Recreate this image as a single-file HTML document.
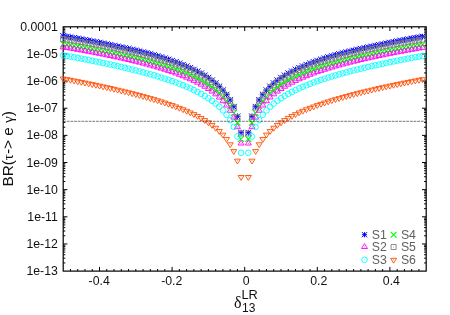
<!DOCTYPE html>
<html><head><meta charset="utf-8"><title>BR(tau-&gt;e gamma)</title>
<style>
html,body{margin:0;padding:0;background:#fff;}
body{width:450px;height:315px;overflow:hidden;font-family:"Liberation Sans",sans-serif;}
svg text{font-family:"Liberation Sans",sans-serif;}
.t{font-size:12.3px;fill:#111;}
.a{font-size:15px;fill:#111;}
</style></head><body>
<svg width="450" height="315" viewBox="0 0 450 315" style="display:block;will-change:transform">
<rect width="450" height="315" fill="#fff"/>
<path d="M63.2 45.77h2.1M426.2 45.77h-2.1M63.2 40.99h2.1M426.2 40.99h-2.1M63.2 37.6h2.1M426.2 37.6h-2.1M63.2 34.97h2.1M426.2 34.97h-2.1M63.2 32.82h2.1M426.2 32.82h-2.1M63.2 31h2.1M426.2 31h-2.1M63.2 29.43h2.1M426.2 29.43h-2.1M63.2 28.04h2.1M426.2 28.04h-2.1M63.2 53.94h4.2M426.2 53.94h-4.2M63.2 72.92h2.1M426.2 72.92h-2.1M63.2 68.14h2.1M426.2 68.14h-2.1M63.2 64.75h2.1M426.2 64.75h-2.1M63.2 62.12h2.1M426.2 62.12h-2.1M63.2 59.97h2.1M426.2 59.97h-2.1M63.2 58.15h2.1M426.2 58.15h-2.1M63.2 56.58h2.1M426.2 56.58h-2.1M63.2 55.19h2.1M426.2 55.19h-2.1M63.2 81.09h4.2M426.2 81.09h-4.2M63.2 100.06h2.1M426.2 100.06h-2.1M63.2 95.28h2.1M426.2 95.28h-2.1M63.2 91.89h2.1M426.2 91.89h-2.1M63.2 89.26h2.1M426.2 89.26h-2.1M63.2 87.11h2.1M426.2 87.11h-2.1M63.2 85.29h2.1M426.2 85.29h-2.1M63.2 83.72h2.1M426.2 83.72h-2.1M63.2 82.33h2.1M426.2 82.33h-2.1M63.2 108.23h4.2M426.2 108.23h-4.2M63.2 127.21h2.1M426.2 127.21h-2.1M63.2 122.43h2.1M426.2 122.43h-2.1M63.2 119.04h2.1M426.2 119.04h-2.1M63.2 116.4h2.1M426.2 116.4h-2.1M63.2 114.26h2.1M426.2 114.26h-2.1M63.2 112.44h2.1M426.2 112.44h-2.1M63.2 110.86h2.1M426.2 110.86h-2.1M63.2 109.48h2.1M426.2 109.48h-2.1M63.2 135.38h4.2M426.2 135.38h-4.2M63.2 154.35h2.1M426.2 154.35h-2.1M63.2 149.57h2.1M426.2 149.57h-2.1M63.2 146.18h2.1M426.2 146.18h-2.1M63.2 143.55h2.1M426.2 143.55h-2.1M63.2 141.4h2.1M426.2 141.4h-2.1M63.2 139.58h2.1M426.2 139.58h-2.1M63.2 138.01h2.1M426.2 138.01h-2.1M63.2 136.62h2.1M426.2 136.62h-2.1M63.2 162.52h4.2M426.2 162.52h-4.2M63.2 181.5h2.1M426.2 181.5h-2.1M63.2 176.72h2.1M426.2 176.72h-2.1M63.2 173.32h2.1M426.2 173.32h-2.1M63.2 170.69h2.1M426.2 170.69h-2.1M63.2 168.54h2.1M426.2 168.54h-2.1M63.2 166.73h2.1M426.2 166.73h-2.1M63.2 165.15h2.1M426.2 165.15h-2.1M63.2 163.76h2.1M426.2 163.76h-2.1M63.2 189.67h4.2M426.2 189.67h-4.2M63.2 208.64h2.1M426.2 208.64h-2.1M63.2 203.86h2.1M426.2 203.86h-2.1M63.2 200.47h2.1M426.2 200.47h-2.1M63.2 197.84h2.1M426.2 197.84h-2.1M63.2 195.69h2.1M426.2 195.69h-2.1M63.2 193.87h2.1M426.2 193.87h-2.1M63.2 192.3h2.1M426.2 192.3h-2.1M63.2 190.91h2.1M426.2 190.91h-2.1M63.2 216.81h4.2M426.2 216.81h-4.2M63.2 235.78h2.1M426.2 235.78h-2.1M63.2 231h2.1M426.2 231h-2.1M63.2 227.61h2.1M426.2 227.61h-2.1M63.2 224.98h2.1M426.2 224.98h-2.1M63.2 222.83h2.1M426.2 222.83h-2.1M63.2 221.02h2.1M426.2 221.02h-2.1M63.2 219.44h2.1M426.2 219.44h-2.1M63.2 218.05h2.1M426.2 218.05h-2.1M63.2 243.96h4.2M426.2 243.96h-4.2M63.2 262.93h2.1M426.2 262.93h-2.1M63.2 258.15h2.1M426.2 258.15h-2.1M63.2 254.76h2.1M426.2 254.76h-2.1M63.2 252.13h2.1M426.2 252.13h-2.1M63.2 249.98h2.1M426.2 249.98h-2.1M63.2 248.16h2.1M426.2 248.16h-2.1M63.2 246.59h2.1M426.2 246.59h-2.1M63.2 245.2h2.1M426.2 245.2h-2.1M70.46 271.1v-2.1M70.46 26.8v2.1M77.72 271.1v-2.1M77.72 26.8v2.1M84.98 271.1v-2.1M84.98 26.8v2.1M92.24 271.1v-2.1M92.24 26.8v2.1M99.5 271.1v-4.2M99.5 26.8v4.2M106.76 271.1v-2.1M106.76 26.8v2.1M114.02 271.1v-2.1M114.02 26.8v2.1M121.28 271.1v-2.1M121.28 26.8v2.1M128.54 271.1v-2.1M128.54 26.8v2.1M135.8 271.1v-2.1M135.8 26.8v2.1M143.06 271.1v-2.1M143.06 26.8v2.1M150.32 271.1v-2.1M150.32 26.8v2.1M157.58 271.1v-2.1M157.58 26.8v2.1M164.84 271.1v-2.1M164.84 26.8v2.1M172.1 271.1v-4.2M172.1 26.8v4.2M179.36 271.1v-2.1M179.36 26.8v2.1M186.62 271.1v-2.1M186.62 26.8v2.1M193.88 271.1v-2.1M193.88 26.8v2.1M201.14 271.1v-2.1M201.14 26.8v2.1M208.4 271.1v-2.1M208.4 26.8v2.1M215.66 271.1v-2.1M215.66 26.8v2.1M222.92 271.1v-2.1M222.92 26.8v2.1M230.18 271.1v-2.1M230.18 26.8v2.1M237.44 271.1v-2.1M237.44 26.8v2.1M244.7 271.1v-4.2M244.7 26.8v4.2M251.96 271.1v-2.1M251.96 26.8v2.1M259.22 271.1v-2.1M259.22 26.8v2.1M266.48 271.1v-2.1M266.48 26.8v2.1M273.74 271.1v-2.1M273.74 26.8v2.1M281 271.1v-2.1M281 26.8v2.1M288.26 271.1v-2.1M288.26 26.8v2.1M295.52 271.1v-2.1M295.52 26.8v2.1M302.78 271.1v-2.1M302.78 26.8v2.1M310.04 271.1v-2.1M310.04 26.8v2.1M317.3 271.1v-4.2M317.3 26.8v4.2M324.56 271.1v-2.1M324.56 26.8v2.1M331.82 271.1v-2.1M331.82 26.8v2.1M339.08 271.1v-2.1M339.08 26.8v2.1M346.34 271.1v-2.1M346.34 26.8v2.1M353.6 271.1v-2.1M353.6 26.8v2.1M360.86 271.1v-2.1M360.86 26.8v2.1M368.12 271.1v-2.1M368.12 26.8v2.1M375.38 271.1v-2.1M375.38 26.8v2.1M382.64 271.1v-2.1M382.64 26.8v2.1M389.9 271.1v-4.2M389.9 26.8v4.2M397.16 271.1v-2.1M397.16 26.8v2.1M404.42 271.1v-2.1M404.42 26.8v2.1M411.68 271.1v-2.1M411.68 26.8v2.1M418.94 271.1v-2.1M418.94 26.8v2.1" stroke="#000" stroke-width="1" fill="none"/>
<rect x="63.2" y="26.8" width="363" height="244.3" fill="none" stroke="#000" stroke-width="1.2"/>
<path d="M60.3 36H66.1M63.2 33.1V38.9M60.3 33.1L66.1 38.9M60.3 38.9L66.1 33.1M63.93 36.63H69.73M66.83 33.73V39.53M63.93 33.73L69.73 39.53M63.93 39.53L69.73 33.73M67.56 37.26H73.36M70.46 34.36V40.16M67.56 34.36L73.36 40.16M67.56 40.16L73.36 34.36M71.19 37.9H76.99M74.09 35V40.8M71.19 35L76.99 40.8M71.19 40.8L76.99 35M74.82 38.55H80.62M77.72 35.65V41.45M74.82 35.65L80.62 41.45M74.82 41.45L80.62 35.65M78.45 39.21H84.25M81.35 36.31V42.11M78.45 36.31L84.25 42.11M78.45 42.11L84.25 36.31M82.08 39.89H87.88M84.98 36.99V42.79M82.08 36.99L87.88 42.79M82.08 42.79L87.88 36.99M85.71 40.57H91.51M88.61 37.67V43.47M85.71 37.67L91.51 43.47M85.71 43.47L91.51 37.67M89.34 41.26H95.14M92.24 38.36V44.16M89.34 38.36L95.14 44.16M89.34 44.16L95.14 38.36M92.97 41.97H98.77M95.87 39.07V44.87M92.97 39.07L98.77 44.87M92.97 44.87L98.77 39.07M96.6 42.68H102.4M99.5 39.78V45.58M96.6 39.78L102.4 45.58M96.6 45.58L102.4 39.78M100.23 43.41H106.03M103.13 40.51V46.31M100.23 40.51L106.03 46.31M100.23 46.31L106.03 40.51M103.86 44.16H109.66M106.76 41.26V47.06M103.86 41.26L109.66 47.06M103.86 47.06L109.66 41.26M107.49 44.92H113.29M110.39 42.02V47.82M107.49 42.02L113.29 47.82M107.49 47.82L113.29 42.02M111.12 45.69H116.92M114.02 42.79V48.59M111.12 42.79L116.92 48.59M111.12 48.59L116.92 42.79M114.75 46.48H120.55M117.65 43.58V49.38M114.75 43.58L120.55 49.38M114.75 49.38L120.55 43.58M118.38 47.23H124.18M121.28 44.33V50.13M118.38 44.33L124.18 50.13M118.38 50.13L124.18 44.33M122.01 48.01H127.81M124.91 45.11V50.91M122.01 45.11L127.81 50.91M122.01 50.91L127.81 45.11M125.64 48.8H131.44M128.54 45.9V51.7M125.64 45.9L131.44 51.7M125.64 51.7L131.44 45.9M129.27 49.62H135.07M132.17 46.72V52.52M129.27 46.72L135.07 52.52M129.27 52.52L135.07 46.72M132.9 50.45H138.7M135.8 47.55V53.35M132.9 47.55L138.7 53.35M132.9 53.35L138.7 47.55M136.53 51.31H142.33M139.43 48.41V54.21M136.53 48.41L142.33 54.21M136.53 54.21L142.33 48.41M140.16 52.2H145.96M143.06 49.3V55.1M140.16 49.3L145.96 55.1M140.16 55.1L145.96 49.3M143.79 53.11H149.59M146.69 50.21V56.01M143.79 50.21L149.59 56.01M143.79 56.01L149.59 50.21M147.42 54.05H153.22M150.32 51.15V56.95M147.42 51.15L153.22 56.95M147.42 56.95L153.22 51.15M151.05 55.03H156.85M153.95 52.13V57.93M151.05 52.13L156.85 57.93M151.05 57.93L156.85 52.13M154.68 56.08H160.48M157.58 53.18V58.98M154.68 53.18L160.48 58.98M154.68 58.98L160.48 53.18M158.31 57.18H164.11M161.21 54.28V60.08M158.31 54.28L164.11 60.08M158.31 60.08L164.11 54.28M161.94 58.32H167.74M164.84 55.42V61.22M161.94 55.42L167.74 61.22M161.94 61.22L167.74 55.42M165.57 59.5H171.37M168.47 56.6V62.4M165.57 56.6L171.37 62.4M165.57 62.4L171.37 56.6M169.2 60.73H175M172.1 57.83V63.63M169.2 57.83L175 63.63M169.2 63.63L175 57.83M172.83 62.02H178.63M175.73 59.12V64.92M172.83 59.12L178.63 64.92M172.83 64.92L178.63 59.12M176.46 63.37H182.26M179.36 60.47V66.27M176.46 60.47L182.26 66.27M176.46 66.27L182.26 60.47M180.09 64.79H185.89M182.99 61.89V67.69M180.09 61.89L185.89 67.69M180.09 67.69L185.89 61.89M183.72 66.29H189.52M186.62 63.39V69.19M183.72 63.39L189.52 69.19M183.72 69.19L189.52 63.39M187.35 67.87H193.15M190.25 64.97V70.77M187.35 64.97L193.15 70.77M187.35 70.77L193.15 64.97M190.98 69.56H196.78M193.88 66.66V72.46M190.98 66.66L196.78 72.46M190.98 72.46L196.78 66.66M194.61 71.37H200.41M197.51 68.47V74.27M194.61 68.47L200.41 74.27M194.61 74.27L200.41 68.47M198.24 73.31H204.04M201.14 70.41V76.21M198.24 70.41L204.04 76.21M198.24 76.21L204.04 70.41M201.87 75.41H207.67M204.77 72.51V78.31M201.87 72.51L207.67 78.31M201.87 78.31L207.67 72.51M205.5 77.7H211.3M208.4 74.8V80.6M205.5 74.8L211.3 80.6M205.5 80.6L211.3 74.8M209.13 80.31H214.93M212.03 77.41V83.21M209.13 77.41L214.93 83.21M209.13 83.21L214.93 77.41M212.76 83.2H218.56M215.66 80.3V86.1M212.76 80.3L218.56 86.1M212.76 86.1L218.56 80.3M216.39 86.47H222.19M219.29 83.57V89.37M216.39 83.57L222.19 89.37M216.39 89.37L222.19 83.57M220.02 90.21H225.82M222.92 87.31V93.11M220.02 87.31L225.82 93.11M220.02 93.11L225.82 87.31M223.65 94.62H229.45M226.55 91.72V97.52M223.65 91.72L229.45 97.52M223.65 97.52L229.45 91.72M227.28 99.98H233.08M230.18 97.08V102.88M227.28 97.08L233.08 102.88M227.28 102.88L233.08 97.08M230.91 106.78H236.71M233.81 103.88V109.68M230.91 103.88L236.71 109.68M230.91 109.68L236.71 103.88M234.54 116.35H240.34M237.44 113.45V119.25M234.54 113.45L240.34 119.25M234.54 119.25L240.34 113.45M238.17 132.7H243.97M241.07 129.8V135.6M238.17 129.8L243.97 135.6M238.17 135.6L243.97 129.8M245.43 132.7H251.23M248.33 129.8V135.6M245.43 129.8L251.23 135.6M245.43 135.6L251.23 129.8M249.06 116.35H254.86M251.96 113.45V119.25M249.06 113.45L254.86 119.25M249.06 119.25L254.86 113.45M252.69 106.78H258.49M255.59 103.88V109.68M252.69 103.88L258.49 109.68M252.69 109.68L258.49 103.88M256.32 99.98H262.12M259.22 97.08V102.88M256.32 97.08L262.12 102.88M256.32 102.88L262.12 97.08M259.95 94.62H265.75M262.85 91.72V97.52M259.95 91.72L265.75 97.52M259.95 97.52L265.75 91.72M263.58 90.21H269.38M266.48 87.31V93.11M263.58 87.31L269.38 93.11M263.58 93.11L269.38 87.31M267.21 86.47H273.01M270.11 83.57V89.37M267.21 83.57L273.01 89.37M267.21 89.37L273.01 83.57M270.84 83.2H276.64M273.74 80.3V86.1M270.84 80.3L276.64 86.1M270.84 86.1L276.64 80.3M274.47 80.31H280.27M277.37 77.41V83.21M274.47 77.41L280.27 83.21M274.47 83.21L280.27 77.41M278.1 77.7H283.9M281 74.8V80.6M278.1 74.8L283.9 80.6M278.1 80.6L283.9 74.8M281.73 75.41H287.53M284.63 72.51V78.31M281.73 72.51L287.53 78.31M281.73 78.31L287.53 72.51M285.36 73.31H291.16M288.26 70.41V76.21M285.36 70.41L291.16 76.21M285.36 76.21L291.16 70.41M288.99 71.37H294.79M291.89 68.47V74.27M288.99 68.47L294.79 74.27M288.99 74.27L294.79 68.47M292.62 69.56H298.42M295.52 66.66V72.46M292.62 66.66L298.42 72.46M292.62 72.46L298.42 66.66M296.25 67.87H302.05M299.15 64.97V70.77M296.25 64.97L302.05 70.77M296.25 70.77L302.05 64.97M299.88 66.29H305.68M302.78 63.39V69.19M299.88 63.39L305.68 69.19M299.88 69.19L305.68 63.39M303.51 64.79H309.31M306.41 61.89V67.69M303.51 61.89L309.31 67.69M303.51 67.69L309.31 61.89M307.14 63.37H312.94M310.04 60.47V66.27M307.14 60.47L312.94 66.27M307.14 66.27L312.94 60.47M310.77 62.02H316.57M313.67 59.12V64.92M310.77 59.12L316.57 64.92M310.77 64.92L316.57 59.12M314.4 60.73H320.2M317.3 57.83V63.63M314.4 57.83L320.2 63.63M314.4 63.63L320.2 57.83M318.03 59.5H323.83M320.93 56.6V62.4M318.03 56.6L323.83 62.4M318.03 62.4L323.83 56.6M321.66 58.32H327.46M324.56 55.42V61.22M321.66 55.42L327.46 61.22M321.66 61.22L327.46 55.42M325.29 57.18H331.09M328.19 54.28V60.08M325.29 54.28L331.09 60.08M325.29 60.08L331.09 54.28M328.92 56.08H334.72M331.82 53.18V58.98M328.92 53.18L334.72 58.98M328.92 58.98L334.72 53.18M332.55 55.03H338.35M335.45 52.13V57.93M332.55 52.13L338.35 57.93M332.55 57.93L338.35 52.13M336.18 54.05H341.98M339.08 51.15V56.95M336.18 51.15L341.98 56.95M336.18 56.95L341.98 51.15M339.81 53.11H345.61M342.71 50.21V56.01M339.81 50.21L345.61 56.01M339.81 56.01L345.61 50.21M343.44 52.2H349.24M346.34 49.3V55.1M343.44 49.3L349.24 55.1M343.44 55.1L349.24 49.3M347.07 51.31H352.87M349.97 48.41V54.21M347.07 48.41L352.87 54.21M347.07 54.21L352.87 48.41M350.7 50.45H356.5M353.6 47.55V53.35M350.7 47.55L356.5 53.35M350.7 53.35L356.5 47.55M354.33 49.62H360.13M357.23 46.72V52.52M354.33 46.72L360.13 52.52M354.33 52.52L360.13 46.72M357.96 48.8H363.76M360.86 45.9V51.7M357.96 45.9L363.76 51.7M357.96 51.7L363.76 45.9M361.59 48.01H367.39M364.49 45.11V50.91M361.59 45.11L367.39 50.91M361.59 50.91L367.39 45.11M365.22 47.23H371.02M368.12 44.33V50.13M365.22 44.33L371.02 50.13M365.22 50.13L371.02 44.33M368.85 46.48H374.65M371.75 43.58V49.38M368.85 43.58L374.65 49.38M368.85 49.38L374.65 43.58M372.48 45.69H378.28M375.38 42.79V48.59M372.48 42.79L378.28 48.59M372.48 48.59L378.28 42.79M376.11 44.92H381.91M379.01 42.02V47.82M376.11 42.02L381.91 47.82M376.11 47.82L381.91 42.02M379.74 44.16H385.54M382.64 41.26V47.06M379.74 41.26L385.54 47.06M379.74 47.06L385.54 41.26M383.37 43.41H389.17M386.27 40.51V46.31M383.37 40.51L389.17 46.31M383.37 46.31L389.17 40.51M387 42.68H392.8M389.9 39.78V45.58M387 39.78L392.8 45.58M387 45.58L392.8 39.78M390.63 41.97H396.43M393.53 39.07V44.87M390.63 39.07L396.43 44.87M390.63 44.87L396.43 39.07M394.26 41.26H400.06M397.16 38.36V44.16M394.26 38.36L400.06 44.16M394.26 44.16L400.06 38.36M397.89 40.57H403.69M400.79 37.67V43.47M397.89 37.67L403.69 43.47M397.89 43.47L403.69 37.67M401.52 39.89H407.32M404.42 36.99V42.79M401.52 36.99L407.32 42.79M401.52 42.79L407.32 36.99M405.15 39.21H410.95M408.05 36.31V42.11M405.15 36.31L410.95 42.11M405.15 42.11L410.95 36.31M408.78 38.55H414.58M411.68 35.65V41.45M408.78 35.65L414.58 41.45M408.78 41.45L414.58 35.65M412.41 37.9H418.21M415.31 35V40.8M412.41 35L418.21 40.8M412.41 40.8L418.21 35M416.04 37.26H421.84M418.94 34.36V40.16M416.04 34.36L421.84 40.16M416.04 40.16L421.84 34.36M419.67 36.63H425.47M422.57 33.73V39.53M419.67 33.73L425.47 39.53M419.67 39.53L425.47 33.73" stroke="#0000ff" stroke-width="1.0" fill="none" stroke-linejoin="miter"/>
<path d="M60.3 41.1L66.1 46.9M60.3 46.9L66.1 41.1M63.93 41.68L69.73 47.48M63.93 47.48L69.73 41.68M67.56 42.26L73.36 48.06M67.56 48.06L73.36 42.26M71.19 42.85L76.99 48.65M71.19 48.65L76.99 42.85M74.82 43.45L80.62 49.25M74.82 49.25L80.62 43.45M78.45 44.06L84.25 49.86M78.45 49.86L84.25 44.06M82.08 44.68L87.88 50.48M82.08 50.48L87.88 44.68M85.71 45.32L91.51 51.12M85.71 51.12L91.51 45.32M89.34 45.96L95.14 51.76M89.34 51.76L95.14 45.96M92.97 46.62L98.77 52.42M92.97 52.42L98.77 46.62M96.6 47.28L102.4 53.08M96.6 53.08L102.4 47.28M100.23 47.97L106.03 53.77M100.23 53.77L106.03 47.97M103.86 48.66L109.66 54.46M103.86 54.46L109.66 48.66M107.49 49.37L113.29 55.17M107.49 55.17L113.29 49.37M111.12 50.1L116.92 55.9M111.12 55.9L116.92 50.1M114.75 50.84L120.55 56.64M114.75 56.64L120.55 50.84M118.38 51.6L124.18 57.4M118.38 57.4L124.18 51.6M122.01 52.38L127.81 58.18M122.01 58.18L127.81 52.38M125.64 53.18L131.44 58.98M125.64 58.98L131.44 53.18M129.27 54L135.07 59.8M129.27 59.8L135.07 54M132.9 54.84L138.7 60.64M132.9 60.64L138.7 54.84M136.53 55.71L142.33 61.51M136.53 61.51L142.33 55.71M140.16 56.6L145.96 62.4M140.16 62.4L145.96 56.6M143.79 57.52L149.59 63.32M143.79 63.32L149.59 57.52M147.42 58.47L153.22 64.27M147.42 64.27L153.22 58.47M151.05 59.45L156.85 65.25M151.05 65.25L156.85 59.45M154.68 60.47L160.48 66.27M154.68 66.27L160.48 60.47M158.31 61.53L164.11 67.33M158.31 67.33L164.11 61.53M161.94 62.63L167.74 68.43M161.94 68.43L167.74 62.63M165.57 63.78L171.37 69.58M165.57 69.58L171.37 63.78M169.2 64.98L175 70.78M169.2 70.78L175 64.98M172.83 66.24L178.63 72.04M172.83 72.04L178.63 66.24M176.46 67.56L182.26 73.36M176.46 73.36L182.26 67.56M180.09 68.95L185.89 74.75M180.09 74.75L185.89 68.95M183.72 70.42L189.52 76.22M183.72 76.22L189.52 70.42M187.35 71.98L193.15 77.78M187.35 77.78L193.15 71.98M190.98 73.64L196.78 79.44M190.98 79.44L196.78 73.64M194.61 75.42L200.41 81.22M194.61 81.22L200.41 75.42M198.24 77.34L204.04 83.14M198.24 83.14L204.04 77.34M201.87 79.42L207.67 85.22M201.87 85.22L207.67 79.42M205.5 81.69L211.3 87.49M205.5 87.49L211.3 81.69M209.13 84.2L214.93 90M209.13 90L214.93 84.2M212.76 86.99L218.56 92.79M212.76 92.79L218.56 86.99M216.39 90.16L222.19 95.96M216.39 95.96L222.19 90.16M220.02 93.81L225.82 99.61M220.02 99.61L225.82 93.81M223.65 98.12L229.45 103.92M223.65 103.92L229.45 98.12M227.28 103.4L233.08 109.2M227.28 109.2L233.08 103.4M230.91 110.19L236.71 115.99M230.91 115.99L236.71 110.19M234.54 119.75L240.34 125.55M234.54 125.55L240.34 119.75M238.17 136.1L243.97 141.9M238.17 141.9L243.97 136.1M245.43 136.1L251.23 141.9M245.43 141.9L251.23 136.1M249.06 119.75L254.86 125.55M249.06 125.55L254.86 119.75M252.69 110.19L258.49 115.99M252.69 115.99L258.49 110.19M256.32 103.4L262.12 109.2M256.32 109.2L262.12 103.4M259.95 98.12L265.75 103.92M259.95 103.92L265.75 98.12M263.58 93.81L269.38 99.61M263.58 99.61L269.38 93.81M267.21 90.16L273.01 95.96M267.21 95.96L273.01 90.16M270.84 86.99L276.64 92.79M270.84 92.79L276.64 86.99M274.47 84.2L280.27 90M274.47 90L280.27 84.2M278.1 81.69L283.9 87.49M278.1 87.49L283.9 81.69M281.73 79.42L287.53 85.22M281.73 85.22L287.53 79.42M285.36 77.34L291.16 83.14M285.36 83.14L291.16 77.34M288.99 75.42L294.79 81.22M288.99 81.22L294.79 75.42M292.62 73.64L298.42 79.44M292.62 79.44L298.42 73.64M296.25 71.98L302.05 77.78M296.25 77.78L302.05 71.98M299.88 70.42L305.68 76.22M299.88 76.22L305.68 70.42M303.51 68.95L309.31 74.75M303.51 74.75L309.31 68.95M307.14 67.56L312.94 73.36M307.14 73.36L312.94 67.56M310.77 66.24L316.57 72.04M310.77 72.04L316.57 66.24M314.4 64.98L320.2 70.78M314.4 70.78L320.2 64.98M318.03 63.78L323.83 69.58M318.03 69.58L323.83 63.78M321.66 62.63L327.46 68.43M321.66 68.43L327.46 62.63M325.29 61.53L331.09 67.33M325.29 67.33L331.09 61.53M328.92 60.47L334.72 66.27M328.92 66.27L334.72 60.47M332.55 59.45L338.35 65.25M332.55 65.25L338.35 59.45M336.18 58.47L341.98 64.27M336.18 64.27L341.98 58.47M339.81 57.52L345.61 63.32M339.81 63.32L345.61 57.52M343.44 56.6L349.24 62.4M343.44 62.4L349.24 56.6M347.07 55.71L352.87 61.51M347.07 61.51L352.87 55.71M350.7 54.84L356.5 60.64M350.7 60.64L356.5 54.84M354.33 54L360.13 59.8M354.33 59.8L360.13 54M357.96 53.18L363.76 58.98M357.96 58.98L363.76 53.18M361.59 52.38L367.39 58.18M361.59 58.18L367.39 52.38M365.22 51.6L371.02 57.4M365.22 57.4L371.02 51.6M368.85 50.84L374.65 56.64M368.85 56.64L374.65 50.84M372.48 50.1L378.28 55.9M372.48 55.9L378.28 50.1M376.11 49.37L381.91 55.17M376.11 55.17L381.91 49.37M379.74 48.66L385.54 54.46M379.74 54.46L385.54 48.66M383.37 47.97L389.17 53.77M383.37 53.77L389.17 47.97M387 47.28L392.8 53.08M387 53.08L392.8 47.28M390.63 46.62L396.43 52.42M390.63 52.42L396.43 46.62M394.26 45.96L400.06 51.76M394.26 51.76L400.06 45.96M397.89 45.32L403.69 51.12M397.89 51.12L403.69 45.32M401.52 44.68L407.32 50.48M401.52 50.48L407.32 44.68M405.15 44.06L410.95 49.86M405.15 49.86L410.95 44.06M408.78 43.45L414.58 49.25M408.78 49.25L414.58 43.45M412.41 42.85L418.21 48.65M412.41 48.65L418.21 42.85M416.04 42.26L421.84 48.06M416.04 48.06L421.84 42.26M419.67 41.68L425.47 47.48M419.67 47.48L425.47 41.68" stroke="#00ff00" stroke-width="1.1" fill="none" stroke-linejoin="miter"/>
<path d="M60.7 36.5H65.7V41.5H60.7ZM62.85 39h0.7M64.33 37.09H69.33V42.09H64.33ZM66.48 39.59h0.7M67.96 37.7H72.96V42.7H67.96ZM70.11 40.2h0.7M71.59 38.31H76.59V43.31H71.59ZM73.74 40.81h0.7M75.22 38.93H80.22V43.93H75.22ZM77.37 41.43h0.7M78.85 39.56H83.85V44.56H78.85ZM81 42.06h0.7M82.48 40.2H87.48V45.2H82.48ZM84.63 42.7h0.7M86.11 40.85H91.11V45.85H86.11ZM88.26 43.35h0.7M89.74 41.51H94.74V46.51H89.74ZM91.89 44.01h0.7M93.37 42.19H98.37V47.19H93.37ZM95.52 44.69h0.7M97 42.88H102V47.88H97ZM99.15 45.38h0.7M100.63 43.58H105.63V48.58H100.63ZM102.78 46.08h0.7M104.26 44.3H109.26V49.3H104.26ZM106.41 46.8h0.7M107.89 45.03H112.89V50.03H107.89ZM110.04 47.53h0.7M111.52 45.77H116.52V50.77H111.52ZM113.67 48.27h0.7M115.15 46.54H120.15V51.54H115.15ZM117.3 49.04h0.7M118.78 47.32H123.78V52.32H118.78ZM120.93 49.82h0.7M122.41 48.12H127.41V53.12H122.41ZM124.56 50.62h0.7M126.04 48.94H131.04V53.94H126.04ZM128.19 51.44h0.7M129.67 49.78H134.67V54.78H129.67ZM131.82 52.28h0.7M133.3 50.64H138.3V55.64H133.3ZM135.45 53.14h0.7M136.93 51.5H141.93V56.5H136.93ZM139.08 54h0.7M140.56 52.38H145.56V57.38H140.56ZM142.71 54.88h0.7M144.19 53.29H149.19V58.29H144.19ZM146.34 55.79h0.7M147.82 54.23H152.82V59.23H147.82ZM149.97 56.73h0.7M151.45 55.2H156.45V60.2H151.45ZM153.6 57.7h0.7M155.08 56.21H160.08V61.21H155.08ZM157.23 58.71h0.7M158.71 57.26H163.71V62.26H158.71ZM160.86 59.76h0.7M162.34 58.35H167.34V63.35H162.34ZM164.49 60.85h0.7M165.97 59.49H170.97V64.49H165.97ZM168.12 61.99h0.7M169.6 60.68H174.6V65.68H169.6ZM171.75 63.18h0.7M173.23 61.92H178.23V66.92H173.23ZM175.38 64.42h0.7M176.86 63.23H181.86V68.23H176.86ZM179.01 65.73h0.7M180.49 64.62H185.49V69.62H180.49ZM182.64 67.12h0.7M184.12 66.08H189.12V71.08H184.12ZM186.27 68.58h0.7M187.75 67.63H192.75V72.63H187.75ZM189.9 70.13h0.7M191.38 69.28H196.38V74.28H191.38ZM193.53 71.78h0.7M195.01 71.06H200.01V76.06H195.01ZM197.16 73.56h0.7M198.64 72.97H203.64V77.97H198.64ZM200.79 75.47h0.7M202.27 74.96H207.27V79.96H202.27ZM204.42 77.46h0.7M205.9 77.14H210.9V82.14H205.9ZM208.05 79.64h0.7M209.53 79.55H214.53V84.55H209.53ZM211.68 82.05h0.7M213.16 82.26H218.16V87.26H213.16ZM215.31 84.76h0.7M216.79 85.34H221.79V90.34H216.79ZM218.94 87.84h0.7M220.42 88.9H225.42V93.9H220.42ZM222.57 91.4h0.7M224.05 93.12H229.05V98.12H224.05ZM226.2 95.62h0.7M227.68 98.3H232.68V103.3H227.68ZM229.83 100.8h0.7M231.31 105.09H236.31V110.09H231.31ZM233.46 107.59h0.7M234.94 114.65H239.94V119.65H234.94ZM237.09 117.15h0.7M238.57 131H243.57V136H238.57ZM240.72 133.5h0.7M245.83 131H250.83V136H245.83ZM247.98 133.5h0.7M249.46 114.65H254.46V119.65H249.46ZM251.61 117.15h0.7M253.09 105.09H258.09V110.09H253.09ZM255.24 107.59h0.7M256.72 98.3H261.72V103.3H256.72ZM258.87 100.8h0.7M260.35 93.12H265.35V98.12H260.35ZM262.5 95.62h0.7M263.98 88.9H268.98V93.9H263.98ZM266.13 91.4h0.7M267.61 85.34H272.61V90.34H267.61ZM269.76 87.84h0.7M271.24 82.26H276.24V87.26H271.24ZM273.39 84.76h0.7M274.87 79.55H279.87V84.55H274.87ZM277.02 82.05h0.7M278.5 77.14H283.5V82.14H278.5ZM280.65 79.64h0.7M282.13 74.96H287.13V79.96H282.13ZM284.28 77.46h0.7M285.76 72.97H290.76V77.97H285.76ZM287.91 75.47h0.7M289.39 71.06H294.39V76.06H289.39ZM291.54 73.56h0.7M293.02 69.28H298.02V74.28H293.02ZM295.17 71.78h0.7M296.65 67.63H301.65V72.63H296.65ZM298.8 70.13h0.7M300.28 66.08H305.28V71.08H300.28ZM302.43 68.58h0.7M303.91 64.62H308.91V69.62H303.91ZM306.06 67.12h0.7M307.54 63.23H312.54V68.23H307.54ZM309.69 65.73h0.7M311.17 61.92H316.17V66.92H311.17ZM313.32 64.42h0.7M314.8 60.68H319.8V65.68H314.8ZM316.95 63.18h0.7M318.43 59.49H323.43V64.49H318.43ZM320.58 61.99h0.7M322.06 58.35H327.06V63.35H322.06ZM324.21 60.85h0.7M325.69 57.26H330.69V62.26H325.69ZM327.84 59.76h0.7M329.32 56.21H334.32V61.21H329.32ZM331.47 58.71h0.7M332.95 55.2H337.95V60.2H332.95ZM335.1 57.7h0.7M336.58 54.23H341.58V59.23H336.58ZM338.73 56.73h0.7M340.21 53.29H345.21V58.29H340.21ZM342.36 55.79h0.7M343.84 52.38H348.84V57.38H343.84ZM345.99 54.88h0.7M347.47 51.5H352.47V56.5H347.47ZM349.62 54h0.7M351.1 50.64H356.1V55.64H351.1ZM353.25 53.14h0.7M354.73 49.78H359.73V54.78H354.73ZM356.88 52.28h0.7M358.36 48.94H363.36V53.94H358.36ZM360.51 51.44h0.7M361.99 48.12H366.99V53.12H361.99ZM364.14 50.62h0.7M365.62 47.32H370.62V52.32H365.62ZM367.77 49.82h0.7M369.25 46.54H374.25V51.54H369.25ZM371.4 49.04h0.7M372.88 45.77H377.88V50.77H372.88ZM375.03 48.27h0.7M376.51 45.03H381.51V50.03H376.51ZM378.66 47.53h0.7M380.14 44.3H385.14V49.3H380.14ZM382.29 46.8h0.7M383.77 43.58H388.77V48.58H383.77ZM385.92 46.08h0.7M387.4 42.88H392.4V47.88H387.4ZM389.55 45.38h0.7M391.03 42.19H396.03V47.19H391.03ZM393.18 44.69h0.7M394.66 41.51H399.66V46.51H394.66ZM396.81 44.01h0.7M398.29 40.85H403.29V45.85H398.29ZM400.44 43.35h0.7M401.92 40.2H406.92V45.2H401.92ZM404.07 42.7h0.7M405.55 39.56H410.55V44.56H405.55ZM407.7 42.06h0.7M409.18 38.93H414.18V43.93H409.18ZM411.33 41.43h0.7M412.81 38.31H417.81V43.31H412.81ZM414.96 40.81h0.7M416.44 37.7H421.44V42.7H416.44ZM418.59 40.2h0.7M420.07 37.09H425.07V42.09H420.07ZM422.22 39.59h0.7" stroke="#808080" stroke-width="0.9" fill="none" stroke-linejoin="miter"/>
<path d="M63.2 43.94L60.2 48.8H66.2ZM62.85 47.3h0.7M66.83 44.55L63.83 49.41H69.83ZM66.48 47.91h0.7M70.46 45.17L67.46 50.03H73.46ZM70.11 48.53h0.7M74.09 45.8L71.09 50.66H77.09ZM73.74 49.16h0.7M77.72 46.44L74.72 51.3H80.72ZM77.37 49.8h0.7M81.35 47.08L78.35 51.94H84.35ZM81 50.44h0.7M84.98 47.74L81.98 52.6H87.98ZM84.63 51.1h0.7M88.61 48.41L85.61 53.27H91.61ZM88.26 51.77h0.7M92.24 49.09L89.24 53.95H95.24ZM91.89 52.45h0.7M95.87 49.78L92.87 54.64H98.87ZM95.52 53.14h0.7M99.5 50.48L96.5 55.34H102.5ZM99.15 53.84h0.7M103.13 51.2L100.13 56.06H106.13ZM102.78 54.56h0.7M106.76 51.93L103.76 56.79H109.76ZM106.41 55.29h0.7M110.39 52.67L107.39 57.53H113.39ZM110.04 56.03h0.7M114.02 53.43L111.02 58.29H117.02ZM113.67 56.79h0.7M117.65 54.21L114.65 59.07H120.65ZM117.3 57.57h0.7M121.28 55L118.28 59.86H124.28ZM120.93 58.36h0.7M124.91 55.81L121.91 60.67H127.91ZM124.56 59.17h0.7M128.54 56.64L125.54 61.5H131.54ZM128.19 60h0.7M132.17 57.49L129.17 62.35H135.17ZM131.82 60.85h0.7M135.8 58.37L132.8 63.23H138.8ZM135.45 61.73h0.7M139.43 59.26L136.43 64.12H142.43ZM139.08 62.62h0.7M143.06 60.18L140.06 65.04H146.06ZM142.71 63.54h0.7M146.69 61.13L143.69 65.99H149.69ZM146.34 64.49h0.7M150.32 62.11L147.32 66.97H153.32ZM149.97 65.47h0.7M153.95 63.13L150.95 67.99H156.95ZM153.6 66.49h0.7M157.58 64.17L154.58 69.03H160.58ZM157.23 67.53h0.7M161.21 65.26L158.21 70.12H164.21ZM160.86 68.62h0.7M164.84 66.38L161.84 71.24H167.84ZM164.49 69.74h0.7M168.47 67.56L165.47 72.42H171.47ZM168.12 70.92h0.7M172.1 68.78L169.1 73.64H175.1ZM171.75 72.14h0.7M175.73 70.06L172.73 74.92H178.73ZM175.38 73.42h0.7M179.36 71.4L176.36 76.26H182.36ZM179.01 74.76h0.7M182.99 72.81L179.99 77.67H185.99ZM182.64 76.17h0.7M186.62 74.3L183.62 79.16H189.62ZM186.27 77.66h0.7M190.25 75.88L187.25 80.74H193.25ZM189.9 79.24h0.7M193.88 77.56L190.88 82.42H196.88ZM193.53 80.92h0.7M197.51 79.35L194.51 84.21H200.51ZM197.16 82.71h0.7M201.14 81.29L198.14 86.15H204.14ZM200.79 84.65h0.7M204.77 83.38L201.77 88.24H207.77ZM204.42 86.74h0.7M208.4 85.67L205.4 90.53H211.4ZM208.05 89.03h0.7M212.03 88.19L209.03 93.05H215.03ZM211.68 91.55h0.7M215.66 90.99L212.66 95.85H218.66ZM215.31 94.35h0.7M219.29 94.17L216.29 99.03H222.29ZM218.94 97.53h0.7M222.92 97.83L219.92 102.69H225.92ZM222.57 101.19h0.7M226.55 102.15L223.55 107.01H229.55ZM226.2 105.51h0.7M230.18 107.43L227.18 112.29H233.18ZM229.83 110.79h0.7M233.81 114.22L230.81 119.08H236.81ZM233.46 117.58h0.7M237.44 123.79L234.44 128.65H240.44ZM237.09 127.15h0.7M241.07 140.14L238.07 145H244.07ZM240.72 143.5h0.7M248.33 140.14L245.33 145H251.33ZM247.98 143.5h0.7M251.96 123.79L248.96 128.65H254.96ZM251.61 127.15h0.7M255.59 114.22L252.59 119.08H258.59ZM255.24 117.58h0.7M259.22 107.43L256.22 112.29H262.22ZM258.87 110.79h0.7M262.85 102.15L259.85 107.01H265.85ZM262.5 105.51h0.7M266.48 97.83L263.48 102.69H269.48ZM266.13 101.19h0.7M270.11 94.17L267.11 99.03H273.11ZM269.76 97.53h0.7M273.74 90.99L270.74 95.85H276.74ZM273.39 94.35h0.7M277.37 88.19L274.37 93.05H280.37ZM277.02 91.55h0.7M281 85.67L278 90.53H284ZM280.65 89.03h0.7M284.63 83.38L281.63 88.24H287.63ZM284.28 86.74h0.7M288.26 81.29L285.26 86.15H291.26ZM287.91 84.65h0.7M291.89 79.35L288.89 84.21H294.89ZM291.54 82.71h0.7M295.52 77.56L292.52 82.42H298.52ZM295.17 80.92h0.7M299.15 75.88L296.15 80.74H302.15ZM298.8 79.24h0.7M302.78 74.3L299.78 79.16H305.78ZM302.43 77.66h0.7M306.41 72.81L303.41 77.67H309.41ZM306.06 76.17h0.7M310.04 71.4L307.04 76.26H313.04ZM309.69 74.76h0.7M313.67 70.06L310.67 74.92H316.67ZM313.32 73.42h0.7M317.3 68.78L314.3 73.64H320.3ZM316.95 72.14h0.7M320.93 67.56L317.93 72.42H323.93ZM320.58 70.92h0.7M324.56 66.38L321.56 71.24H327.56ZM324.21 69.74h0.7M328.19 65.26L325.19 70.12H331.19ZM327.84 68.62h0.7M331.82 64.17L328.82 69.03H334.82ZM331.47 67.53h0.7M335.45 63.13L332.45 67.99H338.45ZM335.1 66.49h0.7M339.08 62.11L336.08 66.97H342.08ZM338.73 65.47h0.7M342.71 61.13L339.71 65.99H345.71ZM342.36 64.49h0.7M346.34 60.18L343.34 65.04H349.34ZM345.99 63.54h0.7M349.97 59.26L346.97 64.12H352.97ZM349.62 62.62h0.7M353.6 58.37L350.6 63.23H356.6ZM353.25 61.73h0.7M357.23 57.49L354.23 62.35H360.23ZM356.88 60.85h0.7M360.86 56.64L357.86 61.5H363.86ZM360.51 60h0.7M364.49 55.81L361.49 60.67H367.49ZM364.14 59.17h0.7M368.12 55L365.12 59.86H371.12ZM367.77 58.36h0.7M371.75 54.21L368.75 59.07H374.75ZM371.4 57.57h0.7M375.38 53.43L372.38 58.29H378.38ZM375.03 56.79h0.7M379.01 52.67L376.01 57.53H382.01ZM378.66 56.03h0.7M382.64 51.93L379.64 56.79H385.64ZM382.29 55.29h0.7M386.27 51.2L383.27 56.06H389.27ZM385.92 54.56h0.7M389.9 50.48L386.9 55.34H392.9ZM389.55 53.84h0.7M393.53 49.78L390.53 54.64H396.53ZM393.18 53.14h0.7M397.16 49.09L394.16 53.95H400.16ZM396.81 52.45h0.7M400.79 48.41L397.79 53.27H403.79ZM400.44 51.77h0.7M404.42 47.74L401.42 52.6H407.42ZM404.07 51.1h0.7M408.05 47.08L405.05 51.94H411.05ZM407.7 50.44h0.7M411.68 46.44L408.68 51.3H414.68ZM411.33 49.8h0.7M415.31 45.8L412.31 50.66H418.31ZM414.96 49.16h0.7M418.94 45.17L415.94 50.03H421.94ZM418.59 48.53h0.7M422.57 44.55L419.57 49.41H425.57ZM422.22 47.91h0.7" stroke="#ff00ff" stroke-width="0.9" fill="none" stroke-linejoin="miter"/>
<path d="M60.4 55.3A2.8 2.8 0 1 0 66 55.3A2.8 2.8 0 1 0 60.4 55.3ZM62.85 55.3h0.7M64.03 55.95A2.8 2.8 0 1 0 69.63 55.95A2.8 2.8 0 1 0 64.03 55.95ZM66.48 55.95h0.7M67.66 56.6A2.8 2.8 0 1 0 73.26 56.6A2.8 2.8 0 1 0 67.66 56.6ZM70.11 56.6h0.7M71.29 57.27A2.8 2.8 0 1 0 76.89 57.27A2.8 2.8 0 1 0 71.29 57.27ZM73.74 57.27h0.7M74.92 57.94A2.8 2.8 0 1 0 80.52 57.94A2.8 2.8 0 1 0 74.92 57.94ZM77.37 57.94h0.7M78.55 58.62A2.8 2.8 0 1 0 84.15 58.62A2.8 2.8 0 1 0 78.55 58.62ZM81 58.62h0.7M82.18 59.32A2.8 2.8 0 1 0 87.78 59.32A2.8 2.8 0 1 0 82.18 59.32ZM84.63 59.32h0.7M85.81 60.02A2.8 2.8 0 1 0 91.41 60.02A2.8 2.8 0 1 0 85.81 60.02ZM88.26 60.02h0.7M89.44 60.73A2.8 2.8 0 1 0 95.04 60.73A2.8 2.8 0 1 0 89.44 60.73ZM91.89 60.73h0.7M93.07 61.46A2.8 2.8 0 1 0 98.67 61.46A2.8 2.8 0 1 0 93.07 61.46ZM95.52 61.46h0.7M96.7 62.2A2.8 2.8 0 1 0 102.3 62.2A2.8 2.8 0 1 0 96.7 62.2ZM99.15 62.2h0.7M100.33 62.95A2.8 2.8 0 1 0 105.93 62.95A2.8 2.8 0 1 0 100.33 62.95ZM102.78 62.95h0.7M103.96 63.72A2.8 2.8 0 1 0 109.56 63.72A2.8 2.8 0 1 0 103.96 63.72ZM106.41 63.72h0.7M107.59 64.5A2.8 2.8 0 1 0 113.19 64.5A2.8 2.8 0 1 0 107.59 64.5ZM110.04 64.5h0.7M111.22 65.29A2.8 2.8 0 1 0 116.82 65.29A2.8 2.8 0 1 0 111.22 65.29ZM113.67 65.29h0.7M114.85 66.1A2.8 2.8 0 1 0 120.45 66.1A2.8 2.8 0 1 0 114.85 66.1ZM117.3 66.1h0.7M118.48 66.93A2.8 2.8 0 1 0 124.08 66.93A2.8 2.8 0 1 0 118.48 66.93ZM120.93 66.93h0.7M122.11 67.78A2.8 2.8 0 1 0 127.71 67.78A2.8 2.8 0 1 0 122.11 67.78ZM124.56 67.78h0.7M125.74 68.64A2.8 2.8 0 1 0 131.34 68.64A2.8 2.8 0 1 0 125.74 68.64ZM128.19 68.64h0.7M129.37 69.53A2.8 2.8 0 1 0 134.97 69.53A2.8 2.8 0 1 0 129.37 69.53ZM131.82 69.53h0.7M133 70.44A2.8 2.8 0 1 0 138.6 70.44A2.8 2.8 0 1 0 133 70.44ZM135.45 70.44h0.7M136.63 71.37A2.8 2.8 0 1 0 142.23 71.37A2.8 2.8 0 1 0 136.63 71.37ZM139.08 71.37h0.7M140.26 72.32A2.8 2.8 0 1 0 145.86 72.32A2.8 2.8 0 1 0 140.26 72.32ZM142.71 72.32h0.7M143.89 73.3A2.8 2.8 0 1 0 149.49 73.3A2.8 2.8 0 1 0 143.89 73.3ZM146.34 73.3h0.7M147.52 74.31A2.8 2.8 0 1 0 153.12 74.31A2.8 2.8 0 1 0 147.52 74.31ZM149.97 74.31h0.7M151.15 75.36A2.8 2.8 0 1 0 156.75 75.36A2.8 2.8 0 1 0 151.15 75.36ZM153.6 75.36h0.7M154.78 76.43A2.8 2.8 0 1 0 160.38 76.43A2.8 2.8 0 1 0 154.78 76.43ZM157.23 76.43h0.7M158.41 77.55A2.8 2.8 0 1 0 164.01 77.55A2.8 2.8 0 1 0 158.41 77.55ZM160.86 77.55h0.7M162.04 78.7A2.8 2.8 0 1 0 167.64 78.7A2.8 2.8 0 1 0 162.04 78.7ZM164.49 78.7h0.7M165.67 79.9A2.8 2.8 0 1 0 171.27 79.9A2.8 2.8 0 1 0 165.67 79.9ZM168.12 79.9h0.7M169.3 81.15A2.8 2.8 0 1 0 174.9 81.15A2.8 2.8 0 1 0 169.3 81.15ZM171.75 81.15h0.7M172.93 82.46A2.8 2.8 0 1 0 178.53 82.46A2.8 2.8 0 1 0 172.93 82.46ZM175.38 82.46h0.7M176.56 83.83A2.8 2.8 0 1 0 182.16 83.83A2.8 2.8 0 1 0 176.56 83.83ZM179.01 83.83h0.7M180.19 85.26A2.8 2.8 0 1 0 185.79 85.26A2.8 2.8 0 1 0 180.19 85.26ZM182.64 85.26h0.7M183.82 86.77A2.8 2.8 0 1 0 189.42 86.77A2.8 2.8 0 1 0 183.82 86.77ZM186.27 86.77h0.7M187.45 88.37A2.8 2.8 0 1 0 193.05 88.37A2.8 2.8 0 1 0 187.45 88.37ZM189.9 88.37h0.7M191.08 90.07A2.8 2.8 0 1 0 196.68 90.07A2.8 2.8 0 1 0 191.08 90.07ZM193.53 90.07h0.7M194.71 91.89A2.8 2.8 0 1 0 200.31 91.89A2.8 2.8 0 1 0 194.71 91.89ZM197.16 91.89h0.7M198.34 93.84A2.8 2.8 0 1 0 203.94 93.84A2.8 2.8 0 1 0 198.34 93.84ZM200.79 93.84h0.7M201.97 95.95A2.8 2.8 0 1 0 207.57 95.95A2.8 2.8 0 1 0 201.97 95.95ZM204.42 95.95h0.7M205.6 98.25A2.8 2.8 0 1 0 211.2 98.25A2.8 2.8 0 1 0 205.6 98.25ZM208.05 98.25h0.7M209.23 100.78A2.8 2.8 0 1 0 214.83 100.78A2.8 2.8 0 1 0 209.23 100.78ZM211.68 100.78h0.7M212.86 103.61A2.8 2.8 0 1 0 218.46 103.61A2.8 2.8 0 1 0 212.86 103.61ZM215.31 103.61h0.7M216.49 106.79A2.8 2.8 0 1 0 222.09 106.79A2.8 2.8 0 1 0 216.49 106.79ZM218.94 106.79h0.7M220.12 110.46A2.8 2.8 0 1 0 225.72 110.46A2.8 2.8 0 1 0 220.12 110.46ZM222.57 110.46h0.7M223.75 114.79A2.8 2.8 0 1 0 229.35 114.79A2.8 2.8 0 1 0 223.75 114.79ZM226.2 114.79h0.7M227.38 120.08A2.8 2.8 0 1 0 232.98 120.08A2.8 2.8 0 1 0 227.38 120.08ZM229.83 120.08h0.7M231.01 126.88A2.8 2.8 0 1 0 236.61 126.88A2.8 2.8 0 1 0 231.01 126.88ZM233.46 126.88h0.7M234.64 136.45A2.8 2.8 0 1 0 240.24 136.45A2.8 2.8 0 1 0 234.64 136.45ZM237.09 136.45h0.7M238.27 152.8A2.8 2.8 0 1 0 243.87 152.8A2.8 2.8 0 1 0 238.27 152.8ZM240.72 152.8h0.7M245.53 152.8A2.8 2.8 0 1 0 251.13 152.8A2.8 2.8 0 1 0 245.53 152.8ZM247.98 152.8h0.7M249.16 136.45A2.8 2.8 0 1 0 254.76 136.45A2.8 2.8 0 1 0 249.16 136.45ZM251.61 136.45h0.7M252.79 126.88A2.8 2.8 0 1 0 258.39 126.88A2.8 2.8 0 1 0 252.79 126.88ZM255.24 126.88h0.7M256.42 120.08A2.8 2.8 0 1 0 262.02 120.08A2.8 2.8 0 1 0 256.42 120.08ZM258.87 120.08h0.7M260.05 114.79A2.8 2.8 0 1 0 265.65 114.79A2.8 2.8 0 1 0 260.05 114.79ZM262.5 114.79h0.7M263.68 110.46A2.8 2.8 0 1 0 269.28 110.46A2.8 2.8 0 1 0 263.68 110.46ZM266.13 110.46h0.7M267.31 106.79A2.8 2.8 0 1 0 272.91 106.79A2.8 2.8 0 1 0 267.31 106.79ZM269.76 106.79h0.7M270.94 103.61A2.8 2.8 0 1 0 276.54 103.61A2.8 2.8 0 1 0 270.94 103.61ZM273.39 103.61h0.7M274.57 100.78A2.8 2.8 0 1 0 280.17 100.78A2.8 2.8 0 1 0 274.57 100.78ZM277.02 100.78h0.7M278.2 98.25A2.8 2.8 0 1 0 283.8 98.25A2.8 2.8 0 1 0 278.2 98.25ZM280.65 98.25h0.7M281.83 95.95A2.8 2.8 0 1 0 287.43 95.95A2.8 2.8 0 1 0 281.83 95.95ZM284.28 95.95h0.7M285.46 93.84A2.8 2.8 0 1 0 291.06 93.84A2.8 2.8 0 1 0 285.46 93.84ZM287.91 93.84h0.7M289.09 91.89A2.8 2.8 0 1 0 294.69 91.89A2.8 2.8 0 1 0 289.09 91.89ZM291.54 91.89h0.7M292.72 90.07A2.8 2.8 0 1 0 298.32 90.07A2.8 2.8 0 1 0 292.72 90.07ZM295.17 90.07h0.7M296.35 88.37A2.8 2.8 0 1 0 301.95 88.37A2.8 2.8 0 1 0 296.35 88.37ZM298.8 88.37h0.7M299.98 86.77A2.8 2.8 0 1 0 305.58 86.77A2.8 2.8 0 1 0 299.98 86.77ZM302.43 86.77h0.7M303.61 85.26A2.8 2.8 0 1 0 309.21 85.26A2.8 2.8 0 1 0 303.61 85.26ZM306.06 85.26h0.7M307.24 83.83A2.8 2.8 0 1 0 312.84 83.83A2.8 2.8 0 1 0 307.24 83.83ZM309.69 83.83h0.7M310.87 82.46A2.8 2.8 0 1 0 316.47 82.46A2.8 2.8 0 1 0 310.87 82.46ZM313.32 82.46h0.7M314.5 81.15A2.8 2.8 0 1 0 320.1 81.15A2.8 2.8 0 1 0 314.5 81.15ZM316.95 81.15h0.7M318.13 79.9A2.8 2.8 0 1 0 323.73 79.9A2.8 2.8 0 1 0 318.13 79.9ZM320.58 79.9h0.7M321.76 78.7A2.8 2.8 0 1 0 327.36 78.7A2.8 2.8 0 1 0 321.76 78.7ZM324.21 78.7h0.7M325.39 77.55A2.8 2.8 0 1 0 330.99 77.55A2.8 2.8 0 1 0 325.39 77.55ZM327.84 77.55h0.7M329.02 76.43A2.8 2.8 0 1 0 334.62 76.43A2.8 2.8 0 1 0 329.02 76.43ZM331.47 76.43h0.7M332.65 75.36A2.8 2.8 0 1 0 338.25 75.36A2.8 2.8 0 1 0 332.65 75.36ZM335.1 75.36h0.7M336.28 74.31A2.8 2.8 0 1 0 341.88 74.31A2.8 2.8 0 1 0 336.28 74.31ZM338.73 74.31h0.7M339.91 73.3A2.8 2.8 0 1 0 345.51 73.3A2.8 2.8 0 1 0 339.91 73.3ZM342.36 73.3h0.7M343.54 72.32A2.8 2.8 0 1 0 349.14 72.32A2.8 2.8 0 1 0 343.54 72.32ZM345.99 72.32h0.7M347.17 71.37A2.8 2.8 0 1 0 352.77 71.37A2.8 2.8 0 1 0 347.17 71.37ZM349.62 71.37h0.7M350.8 70.44A2.8 2.8 0 1 0 356.4 70.44A2.8 2.8 0 1 0 350.8 70.44ZM353.25 70.44h0.7M354.43 69.53A2.8 2.8 0 1 0 360.03 69.53A2.8 2.8 0 1 0 354.43 69.53ZM356.88 69.53h0.7M358.06 68.64A2.8 2.8 0 1 0 363.66 68.64A2.8 2.8 0 1 0 358.06 68.64ZM360.51 68.64h0.7M361.69 67.78A2.8 2.8 0 1 0 367.29 67.78A2.8 2.8 0 1 0 361.69 67.78ZM364.14 67.78h0.7M365.32 66.93A2.8 2.8 0 1 0 370.92 66.93A2.8 2.8 0 1 0 365.32 66.93ZM367.77 66.93h0.7M368.95 66.1A2.8 2.8 0 1 0 374.55 66.1A2.8 2.8 0 1 0 368.95 66.1ZM371.4 66.1h0.7M372.58 65.29A2.8 2.8 0 1 0 378.18 65.29A2.8 2.8 0 1 0 372.58 65.29ZM375.03 65.29h0.7M376.21 64.5A2.8 2.8 0 1 0 381.81 64.5A2.8 2.8 0 1 0 376.21 64.5ZM378.66 64.5h0.7M379.84 63.72A2.8 2.8 0 1 0 385.44 63.72A2.8 2.8 0 1 0 379.84 63.72ZM382.29 63.72h0.7M383.47 62.95A2.8 2.8 0 1 0 389.07 62.95A2.8 2.8 0 1 0 383.47 62.95ZM385.92 62.95h0.7M387.1 62.2A2.8 2.8 0 1 0 392.7 62.2A2.8 2.8 0 1 0 387.1 62.2ZM389.55 62.2h0.7M390.73 61.46A2.8 2.8 0 1 0 396.33 61.46A2.8 2.8 0 1 0 390.73 61.46ZM393.18 61.46h0.7M394.36 60.73A2.8 2.8 0 1 0 399.96 60.73A2.8 2.8 0 1 0 394.36 60.73ZM396.81 60.73h0.7M397.99 60.02A2.8 2.8 0 1 0 403.59 60.02A2.8 2.8 0 1 0 397.99 60.02ZM400.44 60.02h0.7M401.62 59.32A2.8 2.8 0 1 0 407.22 59.32A2.8 2.8 0 1 0 401.62 59.32ZM404.07 59.32h0.7M405.25 58.62A2.8 2.8 0 1 0 410.85 58.62A2.8 2.8 0 1 0 405.25 58.62ZM407.7 58.62h0.7M408.88 57.94A2.8 2.8 0 1 0 414.48 57.94A2.8 2.8 0 1 0 408.88 57.94ZM411.33 57.94h0.7M412.51 57.27A2.8 2.8 0 1 0 418.11 57.27A2.8 2.8 0 1 0 412.51 57.27ZM414.96 57.27h0.7M416.14 56.6A2.8 2.8 0 1 0 421.74 56.6A2.8 2.8 0 1 0 416.14 56.6ZM418.59 56.6h0.7M419.77 55.95A2.8 2.8 0 1 0 425.37 55.95A2.8 2.8 0 1 0 419.77 55.95ZM422.22 55.95h0.7" stroke="#00ffff" stroke-width="0.9" fill="none" stroke-linejoin="miter"/>
<path d="M63.2 81.86L60.2 77H66.2ZM62.85 78.5h0.7M66.83 82.53L63.83 77.67H69.83ZM66.48 79.17h0.7M70.46 83.21L67.46 78.35H73.46ZM70.11 79.85h0.7M74.09 83.9L71.09 79.04H77.09ZM73.74 80.54h0.7M77.72 84.6L74.72 79.74H80.72ZM77.37 81.24h0.7M81.35 85.31L78.35 80.45H84.35ZM81 81.95h0.7M84.98 86.03L81.98 81.17H87.98ZM84.63 82.67h0.7M88.61 86.76L85.61 81.9H91.61ZM88.26 83.4h0.7M92.24 87.5L89.24 82.64H95.24ZM91.89 84.14h0.7M95.87 88.25L92.87 83.39H98.87ZM95.52 84.89h0.7M99.5 89.02L96.5 84.16H102.5ZM99.15 85.66h0.7M103.13 89.8L100.13 84.94H106.13ZM102.78 86.44h0.7M106.76 90.59L103.76 85.73H109.76ZM106.41 87.23h0.7M110.39 91.4L107.39 86.54H113.39ZM110.04 88.04h0.7M114.02 92.22L111.02 87.36H117.02ZM113.67 88.86h0.7M117.65 93.06L114.65 88.2H120.65ZM117.3 89.7h0.7M121.28 93.91L118.28 89.05H124.28ZM120.93 90.55h0.7M124.91 94.78L121.91 89.92H127.91ZM124.56 91.42h0.7M128.54 95.67L125.54 90.81H131.54ZM128.19 92.31h0.7M132.17 96.58L129.17 91.72H135.17ZM131.82 93.22h0.7M135.8 97.52L132.8 92.66H138.8ZM135.45 94.16h0.7M139.43 98.47L136.43 93.61H142.43ZM139.08 95.11h0.7M143.06 99.46L140.06 94.6H146.06ZM142.71 96.1h0.7M146.69 100.46L143.69 95.6H149.69ZM146.34 97.1h0.7M150.32 101.5L147.32 96.64H153.32ZM149.97 98.14h0.7M153.95 102.57L150.95 97.71H156.95ZM153.6 99.21h0.7M157.58 103.67L154.58 98.81H160.58ZM157.23 100.31h0.7M161.21 104.81L158.21 99.95H164.21ZM160.86 101.45h0.7M164.84 105.98L161.84 101.12H167.84ZM164.49 102.62h0.7M168.47 107.21L165.47 102.35H171.47ZM168.12 103.85h0.7M172.1 108.48L169.1 103.62H175.1ZM171.75 105.12h0.7M175.73 109.8L172.73 104.94H178.73ZM175.38 106.44h0.7M179.36 111.19L176.36 106.33H182.36ZM179.01 107.83h0.7M182.99 112.64L179.99 107.78H185.99ZM182.64 109.28h0.7M186.62 114.18L183.62 109.32H189.62ZM186.27 110.82h0.7M190.25 115.79L187.25 110.93H193.25ZM189.9 112.43h0.7M193.88 117.51L190.88 112.65H196.88ZM193.53 114.15h0.7M197.51 119.34L194.51 114.48H200.51ZM197.16 115.98h0.7M201.14 121.31L198.14 116.45H204.14ZM200.79 117.95h0.7M204.77 123.43L201.77 118.57H207.77ZM204.42 120.07h0.7M208.4 125.75L205.4 120.89H211.4ZM208.05 122.39h0.7M212.03 128.29L209.03 123.43H215.03ZM211.68 124.93h0.7M215.66 131.13L212.66 126.27H218.66ZM215.31 127.77h0.7M219.29 134.32L216.29 129.46H222.29ZM218.94 130.96h0.7M222.92 138L219.92 133.14H225.92ZM222.57 134.64h0.7M226.55 142.33L223.55 137.47H229.55ZM226.2 138.97h0.7M230.18 147.63L227.18 142.77H233.18ZM229.83 144.27h0.7M233.81 154.43L230.81 149.57H236.81ZM233.46 151.07h0.7M237.44 164.01L234.44 159.15H240.44ZM237.09 160.65h0.7M241.07 180.36L238.07 175.5H244.07ZM240.72 177h0.7M248.33 180.36L245.33 175.5H251.33ZM247.98 177h0.7M251.96 164.01L248.96 159.15H254.96ZM251.61 160.65h0.7M255.59 154.43L252.59 149.57H258.59ZM255.24 151.07h0.7M259.22 147.63L256.22 142.77H262.22ZM258.87 144.27h0.7M262.85 142.33L259.85 137.47H265.85ZM262.5 138.97h0.7M266.48 138L263.48 133.14H269.48ZM266.13 134.64h0.7M270.11 134.32L267.11 129.46H273.11ZM269.76 130.96h0.7M273.74 131.13L270.74 126.27H276.74ZM273.39 127.77h0.7M277.37 128.29L274.37 123.43H280.37ZM277.02 124.93h0.7M281 125.75L278 120.89H284ZM280.65 122.39h0.7M284.63 123.43L281.63 118.57H287.63ZM284.28 120.07h0.7M288.26 121.31L285.26 116.45H291.26ZM287.91 117.95h0.7M291.89 119.34L288.89 114.48H294.89ZM291.54 115.98h0.7M295.52 117.51L292.52 112.65H298.52ZM295.17 114.15h0.7M299.15 115.79L296.15 110.93H302.15ZM298.8 112.43h0.7M302.78 114.18L299.78 109.32H305.78ZM302.43 110.82h0.7M306.41 112.64L303.41 107.78H309.41ZM306.06 109.28h0.7M310.04 111.19L307.04 106.33H313.04ZM309.69 107.83h0.7M313.67 109.8L310.67 104.94H316.67ZM313.32 106.44h0.7M317.3 108.48L314.3 103.62H320.3ZM316.95 105.12h0.7M320.93 107.21L317.93 102.35H323.93ZM320.58 103.85h0.7M324.56 105.98L321.56 101.12H327.56ZM324.21 102.62h0.7M328.19 104.81L325.19 99.95H331.19ZM327.84 101.45h0.7M331.82 103.67L328.82 98.81H334.82ZM331.47 100.31h0.7M335.45 102.57L332.45 97.71H338.45ZM335.1 99.21h0.7M339.08 101.5L336.08 96.64H342.08ZM338.73 98.14h0.7M342.71 100.46L339.71 95.6H345.71ZM342.36 97.1h0.7M346.34 99.46L343.34 94.6H349.34ZM345.99 96.1h0.7M349.97 98.47L346.97 93.61H352.97ZM349.62 95.11h0.7M353.6 97.52L350.6 92.66H356.6ZM353.25 94.16h0.7M357.23 96.58L354.23 91.72H360.23ZM356.88 93.22h0.7M360.86 95.67L357.86 90.81H363.86ZM360.51 92.31h0.7M364.49 94.78L361.49 89.92H367.49ZM364.14 91.42h0.7M368.12 93.91L365.12 89.05H371.12ZM367.77 90.55h0.7M371.75 93.06L368.75 88.2H374.75ZM371.4 89.7h0.7M375.38 92.22L372.38 87.36H378.38ZM375.03 88.86h0.7M379.01 91.4L376.01 86.54H382.01ZM378.66 88.04h0.7M382.64 90.59L379.64 85.73H385.64ZM382.29 87.23h0.7M386.27 89.8L383.27 84.94H389.27ZM385.92 86.44h0.7M389.9 89.02L386.9 84.16H392.9ZM389.55 85.66h0.7M393.53 88.25L390.53 83.39H396.53ZM393.18 84.89h0.7M397.16 87.5L394.16 82.64H400.16ZM396.81 84.14h0.7M400.79 86.76L397.79 81.9H403.79ZM400.44 83.4h0.7M404.42 86.03L401.42 81.17H407.42ZM404.07 82.67h0.7M408.05 85.31L405.05 80.45H411.05ZM407.7 81.95h0.7M411.68 84.6L408.68 79.74H414.68ZM411.33 81.24h0.7M415.31 83.9L412.31 79.04H418.31ZM414.96 80.54h0.7M418.94 83.21L415.94 78.35H421.94ZM418.59 79.85h0.7M422.57 82.53L419.57 77.67H425.57ZM422.22 79.17h0.7" stroke="#ff4d00" stroke-width="0.9" fill="none" stroke-linejoin="miter"/>
<path d="M63.2 121.3H426.2" stroke="#000" stroke-width="0.75" stroke-dasharray="2.75 0.9" fill="none" opacity="0.72"/>
<path d="M361.9 234.7H367.1M364.5 232.1V237.3M361.9 232.1L367.1 237.3M361.9 237.3L367.1 232.1" stroke="#0000ff" stroke-width="1.0" fill="none"/>
<text x="371.8" y="239" class="t" style="fill:#606060">S1</text>
<path d="M364.5 243.64L361.5 248.5H367.5ZM364.15 247h0.7" stroke="#ff00ff" stroke-width="0.9" fill="none"/>
<text x="371.8" y="251.3" class="t" style="fill:#606060">S2</text>
<path d="M361.7 259.8A2.8 2.8 0 1 0 367.3 259.8A2.8 2.8 0 1 0 361.7 259.8ZM364.15 259.8h0.7" stroke="#00ffff" stroke-width="0.9" fill="none"/>
<text x="371.8" y="264.1" class="t" style="fill:#606060">S3</text>
<path d="M390.7 231.8L396.5 237.6M390.7 237.6L396.5 231.8" stroke="#00ff00" stroke-width="1.1" fill="none"/>
<text x="400.9" y="239" class="t" style="fill:#606060">S4</text>
<path d="M391.1 244.5H396.1V249.5H391.1ZM393.25 247h0.7" stroke="#808080" stroke-width="0.9" fill="none"/>
<text x="400.9" y="251.3" class="t" style="fill:#606060">S5</text>
<path d="M393.6 263.16L390.6 258.3H396.6ZM393.25 259.8h0.7" stroke="#ff4d00" stroke-width="0.9" fill="none"/>
<text x="400.9" y="264.1" class="t" style="fill:#606060">S6</text>
<text x="57.9" y="30.8" class="t" text-anchor="end">0.0001</text>
<text x="57.9" y="57.94" class="t" text-anchor="end">1e-05</text>
<text x="57.9" y="85.09" class="t" text-anchor="end">1e-06</text>
<text x="57.9" y="112.23" class="t" text-anchor="end">1e-07</text>
<text x="57.9" y="139.38" class="t" text-anchor="end">1e-08</text>
<text x="57.9" y="166.52" class="t" text-anchor="end">1e-09</text>
<text x="57.9" y="193.67" class="t" text-anchor="end">1e-10</text>
<text x="57.9" y="220.81" class="t" text-anchor="end">1e-11</text>
<text x="57.9" y="247.96" class="t" text-anchor="end">1e-12</text>
<text x="57.9" y="275.1" class="t" text-anchor="end">1e-13</text>
<text x="99.2" y="284.7" class="t" text-anchor="middle">-0.4</text>
<text x="171.8" y="284.7" class="t" text-anchor="middle">-0.2</text>
<text x="246.2" y="284.7" class="t" text-anchor="middle">0</text>
<text x="318.8" y="284.7" class="t" text-anchor="middle">0.2</text>
<text x="391.4" y="284.7" class="t" text-anchor="middle">0.4</text>
<text transform="translate(13.3 148.8) rotate(-90)" text-anchor="middle" class="a" style="font-size:15.3px">BR(<tspan style="font-family:'Liberation Serif',serif">τ</tspan>-&gt; e <tspan style="font-family:'Liberation Serif',serif">γ</tspan>)</text>
<text x="234" y="307.5" class="a" style="font-size:16px;font-family:'Liberation Serif',serif">δ</text>
<text x="241.4" y="299.3" class="t" style="font-size:12.8px">LR</text>
<text x="242.1" y="311.5" class="t" style="font-size:12px">13</text>
</svg>
</body></html>
